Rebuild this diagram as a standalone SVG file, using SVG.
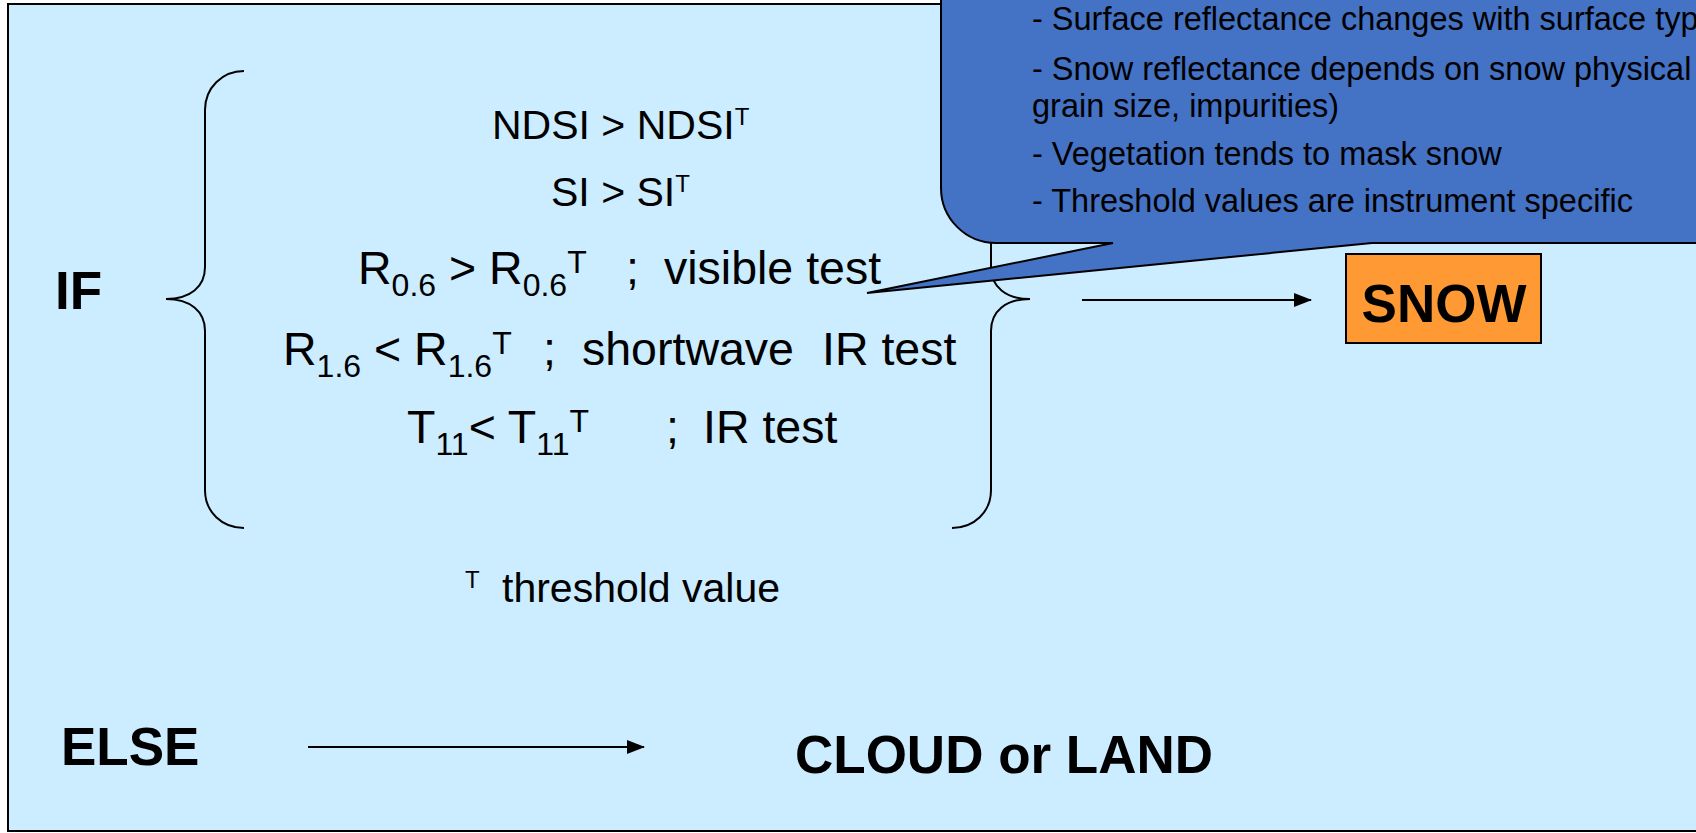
<svg xmlns="http://www.w3.org/2000/svg" width="1696" height="833" viewBox="0 0 1696 833">
  <defs>
    <style>
      text { font-family: "Liberation Sans", Arial, sans-serif; fill: #000; }
      .b { font-weight: bold; font-size: 53px; }
      .c41 { font-size: 41px; }
      .m { font-size: 46.5px; }
      .s { font-size: 32px; }
      .sup { font-size: 24px; }
      .note { font-size: 32.5px; }
      .brace { fill: none; stroke: #000; stroke-width: 2; }
      .conn { fill: none; stroke: #000; stroke-width: 2; }
    </style>
    <marker id="arrow" viewBox="0 0 18 14" refX="17" refY="7" markerWidth="18" markerHeight="14" markerUnits="userSpaceOnUse" orient="auto">
      <path d="M0,0 L18,7 L0,14 Z" fill="#000"/>
    </marker>
  </defs>

  <rect x="0" y="0" width="1696" height="833" fill="#ffffff"/>

  <!-- panel -->
  <rect id="panel" x="8" y="4" width="1720" height="827" fill="#CCECFF" stroke="#000" stroke-width="2"/>

  <!-- IF label -->
  <g id="if-label">
    <text class="b" x="55" y="309">IF</text>
  </g>

  <!-- braces around the test list -->
  <g id="left-brace">
    <path class="brace" d="M244,71 C222,71 205,88 205,110 L205,267 C205,287 190,299 166,299 C190,299 205,311 205,331 L205,490 C205,512 222,528 244,528"/>
  </g>
  <g id="right-brace">
    <path class="brace" d="M952,71 C974,71 991,88 991,110 L991,267 C991,287 1006,299 1030,299 C1006,299 991,311 991,331 L991,490 C991,512 974,528 952,528"/>
  </g>

  <!-- snow tests -->
  <g id="tests">
    <text class="c41" x="492" y="139">NDSI &gt; NDSI<tspan class="sup" y="125">T</tspan></text>
    <text class="c41" x="551" y="206">SI &gt; SI<tspan class="sup" y="192">T</tspan></text>
    <text class="m" x="358" y="284">R<tspan class="s" y="296">0.6</tspan><tspan y="284"> &gt; R</tspan><tspan class="s" y="296">0.6</tspan><tspan class="s" y="273">T</tspan><tspan x="626" y="284">;</tspan><tspan x="664" y="284">visible test</tspan></text>
    <text class="m" x="283" y="365">R<tspan class="s" y="377">1.6</tspan><tspan y="365"> &lt; R</tspan><tspan class="s" y="377">1.6</tspan><tspan class="s" y="354">T</tspan><tspan x="543" y="365">;</tspan><tspan x="582" y="365">shortwave</tspan><tspan x="822" y="365">IR test</tspan></text>
    <text class="m" x="407" y="443">T<tspan class="s" y="455">11</tspan><tspan y="443">&lt; T</tspan><tspan class="s" y="455">11</tspan><tspan class="s" y="432">T</tspan><tspan x="666" y="443">;</tspan><tspan x="703" y="443">IR test</tspan></text>
  </g>

  <!-- footnote -->
  <g id="footnote">
    <text class="sup" x="465" y="588">T</text>
    <text style="font-size:41px" x="502" y="602">threshold value</text>
  </g>

  <!-- remarks callout -->
  <g id="callout">
    <path d="M941,-60 L941,188 A55,55 0 0 0 996,243 L1113,243 L867,293 L1372,243 L1760,243 L1760,-60 Z" fill="#4472C4" stroke="#000" stroke-width="2" stroke-linejoin="miter"/>
    <text class="note" x="1032" y="30">- Surface reflectance changes with surface type</text>
    <text class="note" x="1032" y="80">- Snow reflectance depends on snow physical</text>
    <text class="note" x="1032" y="117">grain size, impurities)</text>
    <text class="note" x="1032" y="165">- Vegetation tends to mask snow</text>
    <text class="note" x="1032" y="212">- Threshold values are instrument specific</text>
  </g>

  <!-- SNOW result -->
  <g id="snow">
    <rect x="1346" y="254" width="195" height="89" fill="#FF9933" stroke="#000" stroke-width="2"/>
    <text class="b" x="1444" y="322" text-anchor="middle">SNOW</text>
  </g>

  <!-- ELSE branch -->
  <g id="else-label">
    <text class="b" x="61" y="765">ELSE</text>
  </g>
  <g id="cloud-land">
    <text class="b" x="795" y="773">CLOUD or LAND</text>
  </g>

  <!-- connectors -->
  <g id="connectors">
    <line class="conn" x1="1082" y1="300" x2="1311" y2="300" marker-end="url(#arrow)"/>
    <line class="conn" x1="308" y1="747" x2="644" y2="747" marker-end="url(#arrow)"/>
  </g>
</svg>
